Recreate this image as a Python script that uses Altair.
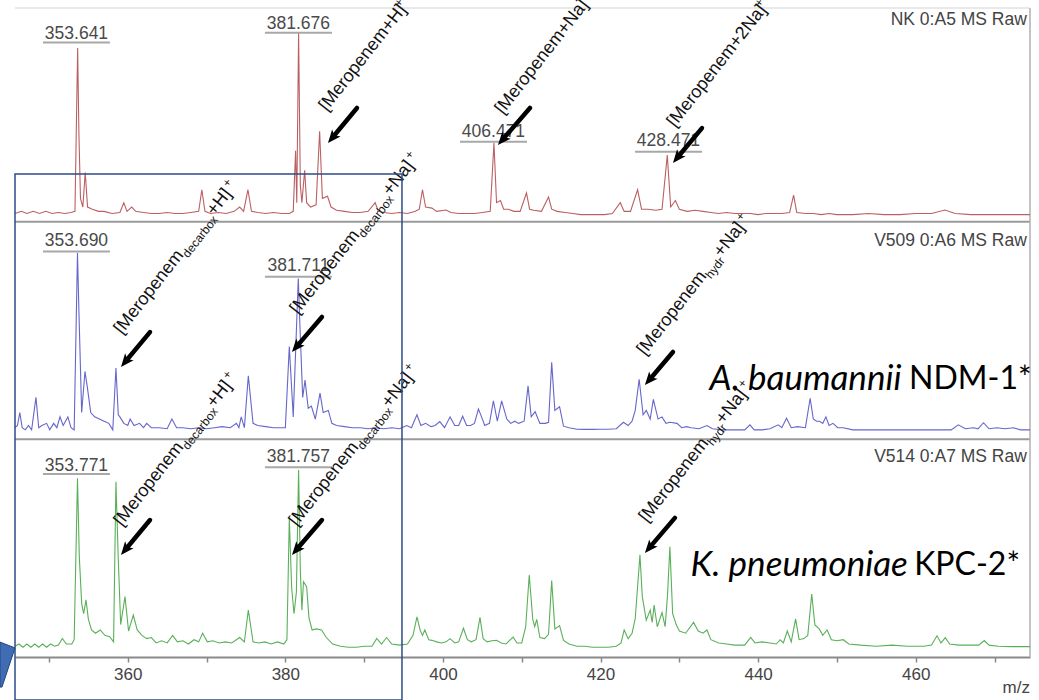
import math
import altair as alt
import pandas as pd

# ---------------- data ----------------
# spectra: m/z vertices and relative intensity (0-100 within each panel)
nk_mz = [345.7, 346.5, 347.2, 348.0, 348.8, 349.6, 350.4, 351.2, 352.0, 352.8, 353.3, 353.64, 353.8, 354.0, 354.3,
         354.6, 354.9, 355.5, 356.3, 357.0, 358.0, 359.0, 359.5, 359.9, 360.5, 361.0, 362.0, 363, 364, 365, 366, 367,
         368, 369.0, 369.4, 369.8, 370.5, 371.5, 372.5, 373.5, 374.2, 374.7, 375.25, 375.7, 376.5, 377.5, 378.5,
         379.5, 380.5, 381.0, 381.3, 381.45, 381.68, 381.9, 382.1, 382.45, 382.7, 383.2, 383.9, 384.35, 384.7,
         385.35, 385.8, 386.5, 387.5, 388.5, 389.5, 390.5, 391.4, 391.8, 392.5, 393.5, 394.5, 395.5, 396.5, 397.0,
         397.4, 397.8, 398.6, 399.2, 400.4, 401.0, 402, 403, 404, 405, 406.0, 406.47, 406.8, 407.3, 407.7, 408.3,
         409.0, 409.8, 410.6, 411.0, 411.5, 412.5, 413.4, 413.8, 414.5, 415.5, 416.5, 417.5, 418.5, 419.5, 420.5,
         421.5, 422.5, 423.0, 423.8, 424.7, 425.2, 426.0, 427.0, 427.8, 428.47, 428.9, 429.5, 430, 431, 432, 433,
         434, 435, 436, 437, 438, 439, 440, 441, 442, 443, 444.0, 444.5, 444.9, 446, 447, 448, 449, 450, 452, 454,
         456, 458, 460, 462, 463.7, 465, 467, 469, 471, 474.5]
nk_int = [5, 6, 5, 6, 5, 6, 5, 5.5, 5, 5.5, 6, 81.5, 42, 12, 8,
          24, 8, 7, 6, 6, 5, 5.5, 10, 6, 8, 6, 5.5, 5, 5, 5.5, 5, 5,
          5.5, 6, 16, 6, 5, 5.5, 5, 6, 8, 6, 16, 6, 5.5, 5, 5.5,
          5, 5, 6, 34, 10, 88.5, 18, 10, 25, 10, 8, 9, 43, 12,
          13, 8, 6.5, 6, 5.5, 5.5, 6, 10, 6, 5.5, 5, 5.5, 5, 6, 7,
          16, 8, 7.5, 6, 6.6, 5.5, 5, 5, 5, 5.5, 6, 37.6, 10, 11, 7, 7,
          6, 6, 14.5, 7, 6.5, 6, 12.6, 7, 6, 5.5, 5, 4.5, 4.5, 4.5, 4.5,
          5, 10, 6, 6, 16, 7, 7, 6.5, 7, 32, 8, 11, 7, 6, 6.5, 6,
          5.5, 5, 5.5, 5, 5, 5, 4.5, 5, 5, 5, 5.5, 13.5, 5.5, 5, 5, 4.5, 5, 4.5, 4.5, 5,
          4.5, 4.5, 5, 5, 6.6, 5, 4.5, 4.5, 4.5, 4.5]

v509_mz = [345.7, 346.0, 346.3, 346.6, 347.0, 347.4, 347.8, 348.35, 348.7, 349.1, 349.7, 350.1, 350.6, 351.0, 351.4,
           351.8, 352.4, 352.8, 353.2, 353.62, 353.8, 354.15, 354.57, 354.86, 355.3, 355.8, 356.4, 357.0, 357.6,
           358.1, 358.5, 358.8, 359.0, 359.5, 360.0, 360.3, 360.8, 361.5, 362.0, 362.4, 363.0, 364.0, 365.0, 365.6,
           366.2, 367.0, 368.0, 369.0, 370.0, 371.0, 372.0, 373.0, 373.8, 374.1, 374.4, 374.8, 375.3, 375.9, 376.5,
           377.5, 378.5, 379.5, 380.0, 380.5, 381.0, 381.64, 381.85, 382.2, 382.5, 382.9, 383.3, 383.8, 384.4,
           384.8, 385.45, 385.9, 386.5, 387.5, 388.5, 389.5, 390.5, 391.5, 392.5, 393.5, 394.5, 395.4, 396.0,
           396.7, 397.2, 397.8, 398.5, 399.0, 399.6, 400.2, 400.9, 401.5, 402.0, 402.5, 403.0, 403.5, 404.0, 404.5,
           404.9, 405.3, 405.9, 406.4, 406.9, 407.45, 408.1, 408.6, 409.1, 409.6, 410.3, 410.8, 411.2, 411.7,
           412.3, 413.0, 413.4, 413.8, 414.2, 414.8, 415.3, 416.0, 417, 418, 419, 420, 421, 422.0, 422.9, 423.5,
           424.0, 424.4, 424.9, 425.4, 425.8, 426.3, 426.7, 427.3, 427.8, 428.3, 428.8, 429.7, 430.3, 430.9, 431.5,
           432.5, 433.5, 434.2, 435.5, 437.0, 438.3, 438.95, 439.5, 440.5, 441.5, 442.55, 443.0, 443.6, 444.2,
           445.0, 446.0, 446.6, 447.0, 447.4, 447.8, 448.2, 448.6, 449.0, 449.5, 450.1, 450.8, 452.0, 454, 456,
           458, 460, 462, 464.5, 465.4, 466.3, 467.3, 467.9, 468.6, 469.3, 470.3, 471.3, 472.4, 473.3, 474.5]
v509_int = [6, 7, 13, 6, 5, 7, 5, 20, 6, 7, 8, 5, 8, 6, 11,
            7, 11, 6, 5, 86.7, 60, 13, 32, 25, 13, 11, 10, 9, 8,
            5, 33.6, 12, 11, 8, 7, 10, 7, 8, 6, 8, 6, 6, 5.5, 10,
            6, 6, 5.5, 6, 5.5, 6, 6.5, 6, 8, 6, 11, 6, 30, 8, 7,
            6.5, 6, 6, 6, 43.5, 11, 75, 53, 20, 28, 15, 16, 10, 22,
            13, 14, 8, 7, 6.5, 6, 6, 5.5, 6, 5.5, 6, 5.5, 7, 6,
            12, 7, 8, 6.5, 7, 8.8, 6, 11, 7, 7, 11.3, 7, 7, 8, 14.6,
            11, 7, 8, 18.4, 9, 18.4, 10, 8, 9, 8, 9, 25.3, 11, 13.4,
            8, 8, 8.5, 36.2, 14, 15.7, 6.7, 6, 5.3, 5.2, 5.2, 5.3, 5.3, 5.5, 8.5, 7,
            9, 14, 28.4, 12, 14, 10, 19.1, 10, 11, 8, 8.5, 8, 6, 6.5, 6,
            5.5, 7, 5.5, 5, 5, 5, 7.3, 5, 5, 5.5, 7.3, 6, 10.4, 6,
            6.5, 6, 19.6, 10, 9, 9, 8, 11, 7, 8, 6, 6, 5, 5, 5,
            5, 5, 5, 5, 7.3, 5.5, 6, 5.5, 8.3, 5.5, 6, 5.5, 6, 5, 5]

v514_mz = [345.7, 346.2, 346.7, 347.2, 347.7, 348.2, 348.7, 349.2, 349.7, 350.2, 350.7, 351.2, 351.7, 352.2, 352.9,
           353.2, 353.62, 353.85, 354.15, 354.4, 354.7, 355.0, 355.4, 355.9, 356.5, 357.1, 357.7, 358.2, 358.5,
           358.8, 359.1, 359.65, 360.1, 360.7, 361.2, 361.8, 362.4, 363.0, 363.6, 364.3, 365.0, 365.7, 366.3,
           367.0, 367.7, 368.4, 369.0, 369.5, 370.1, 370.8, 371.6, 372.4, 373.2, 374.2, 374.8, 375.3, 375.9,
           376.6, 377.4, 378.2, 379.0, 379.8, 380.2, 380.5, 380.8, 381.1, 381.4, 381.68, 381.9, 382.1, 382.3,
           382.7, 383.0, 383.4, 383.9, 384.6, 385.2, 386.0, 387.0, 388.0, 389.0, 390.0, 391.0, 391.6, 392.2,
           392.85, 393.5, 394.5, 395.5, 396.2, 396.7, 397.1, 397.4, 397.7, 398.2, 398.6, 399.2, 399.8, 400.4,
           400.9, 401.5, 402.0, 402.6, 403.1, 403.6, 404.2, 404.7, 405.1, 405.6, 406.2, 406.8, 407.4, 408.0,
           408.9, 409.4, 410.0, 410.5, 410.95, 411.4, 411.65, 411.9, 412.3, 412.9, 413.4, 413.8, 414.2, 414.8,
           415.3, 416.0, 417.0, 418.0, 419.0, 420.0, 421.0, 422.0, 422.6, 423.0, 423.5, 424.0, 424.4, 425.0,
           425.3, 425.8, 426.3, 426.55, 426.8, 427.2, 427.8, 428.2, 428.5, 428.8, 429.15, 429.6, 430.0, 430.8,
           431.8, 432.4, 433.0, 433.5, 434.0, 435.0, 436.0, 437.0, 438.3, 439.05, 439.6, 440.5, 441.5, 442.3,
           442.8, 443.2, 443.7, 444.2, 444.75, 445.2, 445.8, 446.3, 446.8, 447.2, 447.75, 448.2, 448.75, 449.3,
           450.0, 450.8, 451.5, 453, 455, 457, 459, 461, 462.0, 462.7, 463.2, 463.75, 464.3, 465.5, 467.0, 468.0,
           468.7, 469.3, 470.5, 472.0, 474.5]
v514_int = [5, 6, 4.5, 6, 4.5, 6, 4.5, 6, 4.5, 6, 5, 5.5, 8.6, 6, 6,
            8, 82.6, 46.4, 24.8, 20, 26.4, 17.5, 12.5, 11, 12.5, 10, 9.4, 7, 81,
            44.8, 15, 27.9, 12, 19.4, 12.5, 10, 8.5, 9, 6.5, 7.5, 6.5, 10, 7,
            7.5, 6, 8, 7, 11, 7, 7.5, 6.5, 7, 6.5, 9, 7, 21.7, 7,
            6.5, 7, 6, 7, 6, 8, 64, 32, 20, 30, 86.4, 40, 21.6, 34.8,
            32.5, 18, 12.5, 13, 12.5, 9, 6, 5, 4.5, 4.5, 5, 5, 8.6, 6,
            9, 6, 5.5, 6, 10, 18.6, 12.5, 10, 12.5, 8, 7.7, 7, 6.5, 7,
            8.5, 6.5, 7, 13.3, 8, 7, 8, 18.3, 8.5, 7, 7.5, 7.7, 6.5, 6,
            9.2, 6.5, 6.5, 14, 37.9, 17.4, 14, 17.4, 9, 8.5, 10.5, 35.3, 13, 14.5,
            7.7, 6, 5, 5, 4.5, 4.5, 4.5, 5, 6.5, 12.5, 8.5, 11, 17.7, 47.2,
            27.9, 17, 21.7, 16, 24, 14, 20.5, 14, 28.7, 51, 20, 15, 12, 11,
            16, 12, 11, 12.5, 8, 6.5, 6, 5.5, 5.5, 9.1, 6.5, 7, 6.5, 6,
            8, 6.5, 12, 7, 17.6, 8, 8.5, 10, 29.1, 14.8, 13, 10, 12.5, 8,
            7.5, 8, 6, 5.5, 5, 5.5, 5, 5, 5.5, 9.8, 6.5, 8.9, 6, 5.5, 5.5, 5.5,
            7.6, 5.5, 5, 4.8, 4.8]

panels = ["NK", "V509", "V514"]
panel_offset = [200, 100, 0]
panel_titles = ["NK 0:A5 MS Raw", "V509 0:A6 MS Raw", "V514 0:A7 MS Raw"]
panel_title_y = [294.5, 192.3, 92.6]
line_colors = ["#bb6062", "#6666cc", "#5ab05a"]

# peak labels
peak_text = ["353.641", "381.676", "406.471", "428.471", "353.690", "381.711", "353.771", "381.757"]
peak_text_mz = [353.49, 381.66, 406.41, 428.62, 353.49, 381.66, 353.49, 381.66]
peak_text_y = [288.2, 292.8, 242.8, 238.5, 192.3, 180.7, 88.5, 92.4]
peak_line_x1 = [349.24, 377.41, 402.16, 424.37, 349.24, 377.41, 349.24, 377.41]
peak_line_x2 = [357.74, 385.91, 410.66, 432.87, 357.74, 385.91, 357.74, 385.91]
peak_line_y = [284.0, 288.6, 238.2, 233.6, 187.4, 175.8, 84.6, 87.7]

# arrows (tail -> tip) in m/z and stacked intensity
arrow_x1 = [389.09, 411.04, 432.87, 362.82, 384.64, 429.19, 362.82, 384.64, 429.44]
arrow_y1 = [253.8, 253.8, 244.5, 150.2, 157.2, 141.0, 63.3, 63.3, 64.3]
arrow_x2 = [385.41, 406.98, 429.19, 359.14, 380.84, 425.63, 359.14, 380.84, 425.63]
arrow_y2 = [237.6, 236.7, 228.4, 134.1, 141.0, 125.7, 47.2, 47.2, 48.1]

# rotated annotations: anchor and (text, font size, baseline shift) parts
ann_mz = [385.28, 407.61, 429.44, 359.26, 381.6, 425.63, 359.26, 381.47, 425.89]
ann_y = [251.9, 250.5, 244.5, 148.8, 158.1, 139.1, 60.1, 60.1, 61.9]
ann_parts = [
    [("[Meropenem+H]", 18, 0), ("+", 12, -7)],
    [("[Meropenem+Na]", 18, 0), ("+", 12, -7)],
    [("[Meropenem+2Na]", 18, 0), ("+", 12, -7)],
    [("[Meropenem", 18, 0), ("decarbox", 12, 5), (" +H]", 18, 0), ("+", 12, -7)],
    [("[Meropenem", 18, 0), ("decarbox", 12, 5), (" +Na]", 18, 0), ("+", 12, -7)],
    [("[Meropenem", 18, 0), ("hydr", 12, 5), (" +Na]", 18, 0), ("+", 12, -7)],
    [("[Meropenem", 18, 0), ("decarbox", 12, 5), (" +H]", 18, 0), ("+", 12, -7)],
    [("[Meropenem", 18, 0), ("decarbox", 12, 5), (" +Na]", 18, 0), ("+", 12, -7)],
    [("[Meropenem", 18, 0), ("hydr", 12, 5), (" +Na]", 18, 0), ("+", 12, -7)],
]

# species labels
species_italic = ["A. baumannii", "K. pneumoniae"]
species_plain = ["NDM-1*", "KPC-2*"]
species_split_mz = [458.2, 459.0]
species_plain_mz = [459.15, 459.8]
species_y = [128.5, 42.5]

# overlay box and decoration
box_x = [345.69, 394.80]
box_y = [223.3, -19.9]
wedge_y = [6.9, 4.2, -13.9]
wedge_xa = [343.78, 343.78, 343.78]
wedge_xb = [343.78, 345.69, 344.04]

X_DOMAIN = [345.69, 474.5]
Y_DOMAIN = [0, 300]
W, H = 1015, 649
PX_MZ = W / (X_DOMAIN[1] - X_DOMAIN[0])
PX_Y = H / (Y_DOMAIN[1] - Y_DOMAIN[0])

# ---------------- tables ----------------
spec_rows = []
for name, off, mzs, ints in zip(panels, panel_offset, [nk_mz, v509_mz, v514_mz], [nk_int, v509_int, v514_int]):
    for m, v in zip(mzs, ints):
        spec_rows.append({"panel": name, "mz": m, "y": v + off})
spec = pd.DataFrame(spec_rows)

ARIAL = {'[': 278, ']': 278, 'M': 833, 'e': 556, 'r': 333, 'o': 556, 'p': 556, 'n': 556, 'm': 833, '+': 584,
         'H': 722, 'N': 722, 'a': 556, '2': 556, ' ': 278, 'd': 556, 'c': 500, 'b': 556, 'x': 500, 'h': 556, 'y': 500}


def text_width(s, size):
    return sum(ARIAL.get(ch, 556) for ch in s) / 1000.0 * size


theta = math.radians(52)
ann_rows = []
for am, ay, parts in zip(ann_mz, ann_y, ann_parts):
    along = 0.0
    for txt, size, shift in parts:
        if shift < 0:
            along -= 2.5
        sx = along * math.cos(theta) + shift * math.sin(theta)
        sy = -along * math.sin(theta) + shift * math.cos(theta)
        ann_rows.append({"mz": am + sx / PX_MZ, "y": ay - sy / PX_Y, "text": txt, "size": size})
        along += text_width(txt, size)
ann = pd.DataFrame(ann_rows)

arrow_rows = []
for x1, y1, x2, y2 in zip(arrow_x1, arrow_y1, arrow_x2, arrow_y2):
    dxp = (x2 - x1) * PX_MZ
    dyp = -(y2 - y1) * PX_Y
    L = math.hypot(dxp, dyp)
    ux, uy = dxp / L, dyp / L
    back = 10.0
    ex = x2 - ux * back / PX_MZ
    ey = y2 + uy * back / PX_Y
    ang = (math.degrees(math.atan2(ux, -uy)) + 360) % 360
    arrow_rows.append({"x1": x1, "y1": y1, "ex": ex, "ey": ey, "tx": x2, "ty": y2, "ang": ang})
arrows = pd.DataFrame(arrow_rows)

peaks = pd.DataFrame({"text": peak_text, "mz": peak_text_mz, "y": peak_text_y,
                      "lx1": peak_line_x1, "lx2": peak_line_x2, "ly": peak_line_y})
titles = pd.DataFrame({"text": panel_titles, "y": panel_title_y, "mz": [474.1] * 3})
species = pd.DataFrame({"it": species_italic, "pl": species_plain, "sx": species_split_mz,
                        "px": species_plain_mz, "y": species_y})

xs = alt.Scale(domain=X_DOMAIN, nice=False, zero=False)
ys = alt.Scale(domain=Y_DOMAIN, nice=False, zero=False)
xaxis = alt.Axis(values=list(range(350, 471, 10)), format="d",
                 labelExpr="datum.value % 20 == 0 ? datum.label : ''",
                 tickSize=5, tickColor="#888888", tickWidth=1.5, domainColor="#8a8a8a", domainWidth=2,
                 labelFontSize=17, labelColor="#444444", labelFont="Liberation Sans", labelPadding=4,
                 grid=False, title=None)


def X(f):
    return alt.X(f, type="quantitative", scale=xs, axis=xaxis)


def Y(f):
    return alt.Y(f, type="quantitative", scale=ys, axis=None)


spectra = alt.Chart(spec).mark_line(strokeWidth=1.1).encode(
    x=X("mz"), y=Y("y"),
    color=alt.Color("panel:N", scale=alt.Scale(domain=panels, range=line_colors), legend=None),
)

frame_h = alt.Chart(pd.DataFrame({"y": [201.2, 100.6]})).mark_rule(color="#9a9a9a", strokeWidth=2).encode(
    y=Y("y"), x=alt.value(0), x2=alt.value(W))
frame_top = alt.Chart(pd.DataFrame({"y": [300]})).mark_rule(color="#e2e2e2", strokeWidth=1.5).encode(
    y=Y("y"), x=alt.value(0), x2=alt.value(W))
frame_r = alt.Chart(pd.DataFrame({"x": [X_DOMAIN[1]]})).mark_rule(color="#b0b0b0", strokeWidth=1.5).encode(
    x=X("x"), y=alt.value(0), y2=alt.value(H))

peak_lines = alt.Chart(peaks).mark_rule(color="#a8a8a8", strokeWidth=2).encode(
    x=X("lx1"), x2="lx2", y=Y("ly"))
peak_labels = alt.Chart(peaks).mark_text(font="Liberation Sans", fontSize=17.5, color="#4a4a4a",
                                         align="center", baseline="middle").encode(
    x=X("mz"), y=Y("y"), text="text:N")

title_labels = alt.Chart(titles).mark_text(font="Liberation Sans", fontSize=17.5, color="#444444",
                                           align="right", baseline="middle").encode(
    x=X("mz"), y=Y("y"), text="text:N")

ann_text = alt.Chart(ann).mark_text(font="Liberation Sans", color="#111111", align="left",
                                    baseline="alphabetic", angle=308).encode(
    x=X("mz"), y=Y("y"), text="text:N", size=alt.Size("size:Q", scale=None))

arrow_shafts = alt.Chart(arrows).mark_rule(color="black", strokeWidth=4.5, strokeCap="round").encode(
    x=X("x1"), y=Y("y1"), x2="ex", y2="ey")
arrow_heads = alt.Chart(arrows).mark_point(
    shape="M0,0L0.8,1.9L0,1.45L-0.8,1.9Z", filled=True, color="black", opacity=1, size=190).encode(
    x=X("tx"), y=Y("ty"), angle=alt.Angle("ang:Q", scale=None))

sp_it = alt.Chart(species).mark_text(font="Lato", fontSize=35, fontStyle="italic", color="black",
                                     align="right", baseline="middle").encode(
    x=X("sx"), y=Y("y"), text="it:N")
sp_pl = alt.Chart(species).mark_text(font="Lato", fontSize=32, color="black",
                                     align="left", baseline="middle").encode(
    x=X("px"), y=Y("y"), text="pl:N")

mz_label = alt.Chart(pd.DataFrame({"t": ["m/z"], "x": [X_DOMAIN[1]], "y": [-14.3]})).mark_text(
    font="Liberation Sans", fontSize=17, color="#444444", align="right", baseline="middle").encode(
    x=X("x"), y=Y("y"), text="t:N")

box = alt.Chart(pd.DataFrame({"x1": [box_x[0]], "x2": [box_x[1]], "y1": [box_y[0]], "y2": [box_y[1]]})).mark_rect(
    fillOpacity=0, stroke="#2c4c88", strokeWidth=1.5).encode(
    x=X("x1"), x2="x2", y=Y("y1"), y2="y2")

wedge = alt.Chart(pd.DataFrame({"y": wedge_y, "xa": wedge_xa, "xb": wedge_xb})).mark_area(
    orient="horizontal", color="#3f6cb2", stroke="#24467f", strokeWidth=1).encode(
    y=Y("y"), x=X("xa"), x2="xb")

chart = alt.layer(
    frame_top, frame_h, frame_r, spectra, peak_lines, peak_labels, title_labels,
    ann_text, arrow_shafts, arrow_heads, sp_it, sp_pl, mz_label, box, wedge
).properties(
    width=W, height=H,
    padding={"left": 15, "top": 8, "right": 9, "bottom": 43},
    autosize=alt.AutoSizeParams(type="none"),
    background="white",
).configure_view(stroke=None)

chart.save("out.html", embed_options={"renderer": "svg", "actions": False})
